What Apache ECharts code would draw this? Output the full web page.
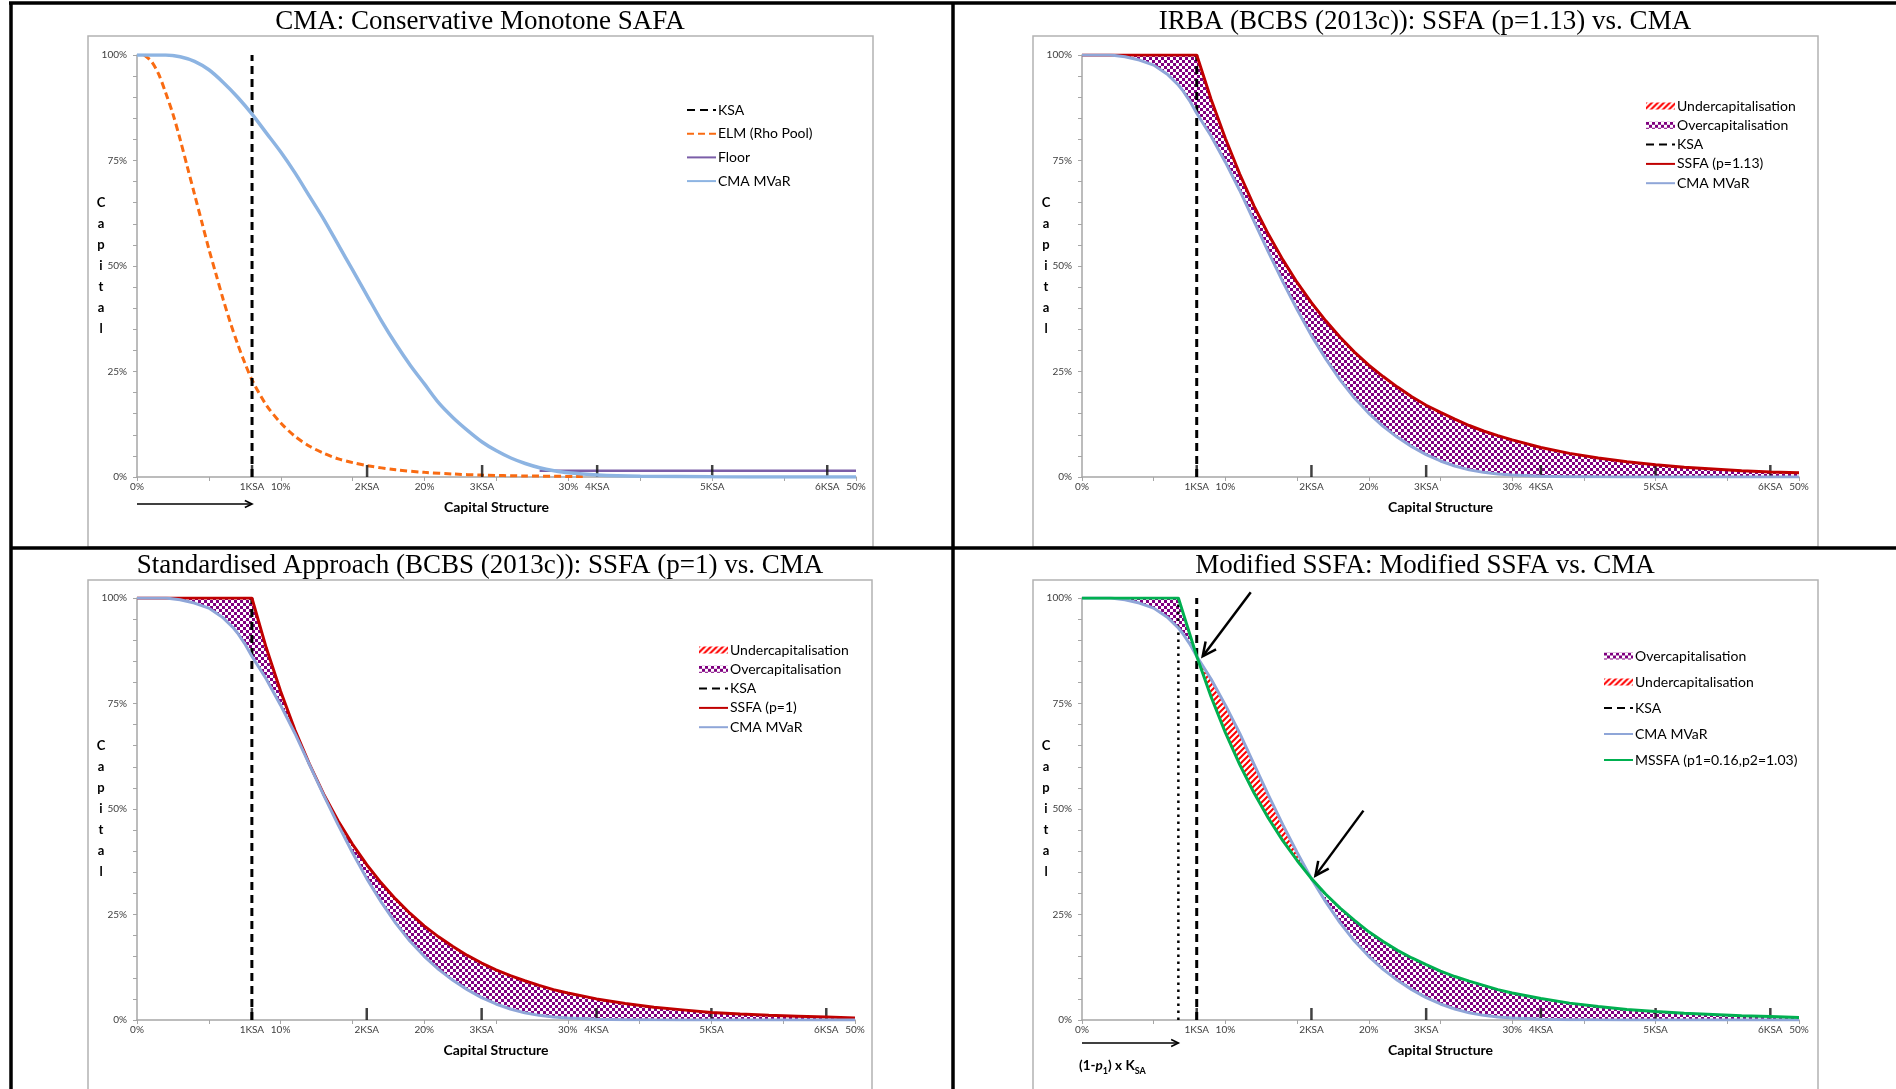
<!DOCTYPE html>
<html>
<head>
<meta charset="utf-8">
<title>SSFA vs CMA</title>
<script src="https://cdn.jsdelivr.net/npm/echarts@6/dist/echarts.min.js"></script>
<style>
  html, body { margin: 0; padding: 0; background: #fff; }
  #chartBox { width: 1896px; height: 1089px; }
</style>
</head>
<body>
<div id="chartBox"></div>
<script>
// capital structure points (% of pool) shared by the SSFA / CMA panels
const capStruct = [0, 1, 2, 3, 4, 5, 6, 6.72, 7, 7.5, 8, 9, 10, 11, 12, 13, 14, 15, 16, 17, 18, 19, 20, 21, 22, 23, 24, 25, 26, 27, 28, 29, 30, 32, 34, 36, 38, 40, 42, 44, 46, 48, 50]
const cmaMVaR = [100, 100, 100, 99.6, 98.8, 97.6, 95.3, 92.9, 91.7, 89.2, 86.2, 80.8, 74.6, 67.9, 60.6, 53.3, 46.3, 39.7, 33.5, 28.0, 23.0, 18.7, 15.1, 12.0, 9.4, 7.2, 5.3, 3.8, 2.6, 1.7, 1.1, 0.7, 0.45, 0.18, 0.07, 0.03, 0.01, 0, 0, 0, 0, 0, 0]
const ssfa113 = [100, 100, 100, 100, 100, 100, 100, 100, 100, 100, 100, 89.5, 80.2, 71.8, 64.2, 57.5, 51.5, 46.1, 41.3, 37.0, 33.1, 29.6, 26.5, 23.8, 21.3, 19.0, 17.0, 15.3, 13.7, 12.2, 10.9, 9.8, 8.8, 7.0, 5.6, 4.5, 3.6, 2.9, 2.3, 1.9, 1.5, 1.2, 1.0]
const ssfa1 = [100, 100, 100, 100, 100, 100, 100, 100, 100, 100, 100, 88.2, 77.9, 68.7, 60.7, 53.5, 47.2, 41.7, 36.8, 32.5, 28.7, 25.3, 22.3, 19.7, 17.4, 15.3, 13.5, 11.9, 10.5, 9.3, 8.2, 7.2, 6.4, 5.0, 3.9, 3.0, 2.4, 1.8, 1.4, 1.1, 0.9, 0.7, 0.5]
const mssfa = [100, 100, 100, 100, 100, 100, 100, 100, 97.0, 91.6, 86.2, 76.6, 68.1, 60.5, 53.8, 47.8, 42.5, 37.8, 33.5, 29.8, 26.5, 23.6, 20.9, 18.6, 16.5, 14.7, 13.1, 11.6, 10.3, 9.2, 8.2, 7.2, 6.4, 5.1, 4.0, 3.2, 2.5, 2.0, 1.6, 1.3, 1.0, 0.8, 0.6]

// first panel (CMA)
const tlX = [0, 1, 2, 3, 4, 5, 6, 7, 8, 9, 10, 11, 12, 13, 14, 15, 16, 17, 18, 19, 20, 21, 22, 23, 24, 25, 26, 27, 28, 29, 30, 32, 35, 40, 45, 50]
const tlCma = [100, 100, 100, 99.6, 98.5, 96.5, 93.5, 90, 86, 81.5, 77, 72, 66.5, 61, 55, 49, 43, 37, 31.5, 26.5, 22, 17.5, 14, 11, 8.3, 6.2, 4.5, 3.2, 2.2, 1.5, 1, 0.5, 0.2, 0.05, 0, 0]
const elmX = [0.5, 1, 1.5, 2, 2.5, 3, 3.5, 4, 4.5, 5, 5.5, 6, 6.5, 7, 7.5, 8, 9, 10, 11, 12, 13, 14, 15, 16, 18, 20, 22, 24, 27, 31]
const elmRho = [100, 98.5, 95.5, 91, 86, 80, 73.5, 67, 60.5, 54, 48, 42, 36.5, 31.5, 27, 23, 17, 12.8, 9.6, 7.3, 5.6, 4.3, 3.4, 2.7, 1.7, 1.1, 0.7, 0.45, 0.25, 0.1]
const floorX = [28, 50]
const floorY = [1.5, 1.5]

const ksa = 8
const p1Start = 6.72 // (1-p1) x KSA
const ksaPos = [8, 16, 24, 32, 40, 48]
const ksaLabels = ['1KSA', '2KSA', '3KSA', '4KSA', '5KSA', '6KSA']
const pctTicks = [0, 10, 20, 30, 50]
const yTicks = [0, 25, 50, 75, 100]

const titles = [
  'CMA: Conservative Monotone SAFA',
  'IRBA (BCBS (2013c)): SSFA (p=1.13) vs. CMA',
  'Standardised Approach (BCBS (2013c)): SSFA (p=1) vs. CMA',
  'Modified SSFA: Modified SSFA vs. CMA'
]

const fontFamily = 'Lato, "Noto Sans", sans-serif'
const tlBlue = '#8db4e2'
const blue = '#8fa6d8'
const red = '#c00000'
const green = '#00b050'
const orange = '#f96b12'
const purple = '#7b5ea8'

function pairs (xs, ys) {
  return xs.map((x, i) => [x, ys[i]])
}

function makeChecker () {
  const c = document.createElement('canvas')
  c.width = 6
  c.height = 6
  const g = c.getContext('2d')
  g.fillStyle = '#fff'
  g.fillRect(0, 0, 6, 6)
  g.fillStyle = '#800080'
  g.fillRect(0, 0, 3, 3)
  g.fillRect(3, 3, 3, 3)
  return { image: c, repeat: 'repeat' }
}

function makeHatch () {
  const c = document.createElement('canvas')
  c.width = 6
  c.height = 6
  const g = c.getContext('2d')
  g.fillStyle = '#fff'
  g.fillRect(0, 0, 6, 6)
  g.strokeStyle = '#ff0000'
  g.lineWidth = 2
  g.beginPath()
  g.moveTo(-1, 7); g.lineTo(7, -1)
  g.moveTo(-4, 4); g.lineTo(4, -4)
  g.moveTo(2, 10); g.lineTo(10, 2)
  g.stroke()
  return { image: c, repeat: 'repeat' }
}

const checker = makeChecker()
const hatch = makeHatch()
const last = capStruct.length - 1
const iKsa = capStruct.indexOf(ksa)
const i2Ksa = capStruct.indexOf(16)

function lineSeries (g, name, data, color, width, type, z, smooth) {
  return {
    type: 'line',
    name: name,
    xAxisIndex: 2 * g,
    yAxisIndex: g,
    data: data,
    symbol: 'none',
    showSymbol: false,
    smooth: smooth || false,
    z: z,
    silent: true,
    lineStyle: { color: color, width: width, type: type || 'solid' },
    itemStyle: { color: color }
  }
}

// filled band between two curves, over index ranges of capStruct
function band (g, name, upper, lower, ranges, fill) {
  return {
    type: 'custom',
    name: name,
    xAxisIndex: 2 * g,
    yAxisIndex: g,
    z: 1,
    silent: true,
    itemStyle: { color: fill },
    data: ranges.length ? [[0, 0]] : [],
    renderItem: function (params, api) {
      return {
        type: 'group',
        children: ranges.map(function (r) {
          const pts = []
          for (let i = r[0]; i <= r[1]; i++) pts.push(api.coord([capStruct[i], upper[i]]))
          for (let i = r[1]; i >= r[0]; i--) pts.push(api.coord([capStruct[i], lower[i]]))
          return { type: 'polygon', shape: { points: pts }, style: { fill: fill, stroke: null } }
        })
      }
    }
  }
}

function ksaTicks (g) {
  return {
    type: 'scatter',
    name: 'ksa ticks',
    xAxisIndex: 2 * g,
    yAxisIndex: g,
    data: ksaPos.map(x => [x, 0]),
    symbol: 'rect',
    symbolSize: [2.5, 12],
    symbolOffset: [0, -6],
    itemStyle: { color: '#111' },
    z: 3,
    silent: true
  }
}

const ksaLine = g => lineSeries(g, 'KSA', [[ksa, 0], [ksa, 100]], '#000', 3, [8, 5], 4)

const grids = [
  { left: 137, top: 55, width: 719, height: 422 },
  { left: 1082, top: 55, width: 717, height: 422 },
  { left: 137, top: 598, width: 718, height: 422 },
  { left: 1082, top: 598, width: 717, height: 422 }
]

const axisGray = '#a6a6a6'
const labelStyle = { fontSize: 10, color: '#404040', fontFamily: fontFamily }

const xAxes = []
const yAxes = []
grids.forEach(function (gr, g) {
  xAxes.push({
    gridIndex: g,
    type: 'value',
    position: 'bottom',
    min: 0,
    max: 50,
    interval: 5,
    axisLine: { show: true, lineStyle: { color: axisGray, width: 1.5 } },
    axisTick: { show: true, length: 4, lineStyle: { color: axisGray } },
    splitLine: { show: false },
    axisLabel: Object.assign({ margin: 5, formatter: v => pctTicks.indexOf(v) >= 0 ? v + '%' : '' }, labelStyle),
    name: 'Capital Structure',
    nameLocation: 'middle',
    nameGap: 23,
    nameTextStyle: { fontWeight: 'bold', fontSize: 14, color: '#000', fontFamily: fontFamily }
  })
  xAxes.push({
    gridIndex: g,
    type: 'value',
    position: 'bottom',
    min: 0,
    max: 50,
    interval: 8,
    axisLine: { show: false },
    axisTick: { show: false },
    splitLine: { show: false },
    axisLabel: Object.assign({
      margin: 5,
      formatter: function (v) {
        const i = ksaPos.findIndex(p => Math.abs(p - v) < 1e-6)
        return i < 0 ? '' : ksaLabels[i]
      }
    }, labelStyle)
  })
  yAxes.push({
    gridIndex: g,
    type: 'value',
    min: 0,
    max: 100,
    interval: 5,
    axisLine: { show: true, lineStyle: { color: axisGray, width: 1.5 } },
    axisTick: { show: true, length: 4, lineStyle: { color: axisGray } },
    splitLine: { show: false },
    axisLabel: Object.assign({ margin: 10, formatter: v => yTicks.indexOf(v) >= 0 ? v + '%' : '' }, labelStyle),
    name: 'C\na\np\ni\nt\na\nl',
    nameLocation: 'middle',
    nameRotate: 0,
    nameGap: 36,
    nameMoveOverlap: false,
    nameTextStyle: { fontWeight: 'bold', fontSize: 13, lineHeight: 21, align: 'center', color: '#000', fontFamily: fontFamily }
  })
})

const series = [
  // CMA panel
  ksaLine(0),
  lineSeries(0, 'ELM (Rho Pool)', pairs(elmX, elmRho), orange, 3, [7, 4], 3, 0.3),
  lineSeries(0, 'Floor', pairs(floorX, floorY), purple, 2.5, 'solid', 3),
  lineSeries(0, 'CMA MVaR', pairs(tlX, tlCma), tlBlue, 3.5, 'solid', 5, 0.3),
  ksaTicks(0),
  // IRBA
  band(1, 'Overcapitalisation', ssfa113, cmaMVaR, [[0, last]], checker),
  band(1, 'Undercapitalisation', ssfa113, cmaMVaR, [], hatch),
  ksaLine(1),
  lineSeries(1, 'SSFA (p=1.13)', pairs(capStruct, ssfa113), red, 3, 'solid', 4),
  lineSeries(1, 'CMA MVaR', pairs(capStruct, cmaMVaR), blue, 3, 'solid', 5),
  ksaTicks(1),
  // Standardised
  band(2, 'Overcapitalisation', ssfa1, cmaMVaR, [[0, last]], checker),
  band(2, 'Undercapitalisation', ssfa1, cmaMVaR, [], hatch),
  ksaLine(2),
  lineSeries(2, 'SSFA (p=1)', pairs(capStruct, ssfa1), red, 3, 'solid', 4),
  lineSeries(2, 'CMA MVaR', pairs(capStruct, cmaMVaR), blue, 3, 'solid', 5),
  ksaTicks(2),
  // Modified SSFA
  band(3, 'Overcapitalisation', mssfa, cmaMVaR, [[0, iKsa], [i2Ksa, last]], checker),
  band(3, 'Undercapitalisation', cmaMVaR, mssfa, [[iKsa, i2Ksa]], hatch),
  lineSeries(3, '(1-p1) x KSA', [[p1Start, 0], [p1Start, 100]], '#000', 2.5, [2.5, 4.5], 3),
  ksaLine(3),
  lineSeries(3, 'CMA MVaR', pairs(capStruct, cmaMVaR), blue, 3, 'solid', 4),
  lineSeries(3, 'MSSFA (p1=0.16,p2=1.03)', pairs(capStruct, mssfa), green, 3, 'solid', 5),
  ksaTicks(3)
]

function legend (left, top, gap, data) {
  return {
    orient: 'vertical',
    left: left,
    top: top,
    itemGap: gap,
    itemWidth: 29,
    itemHeight: 7,
    selectedMode: false,
    textStyle: { fontSize: 14, lineHeight: 16, color: '#000', fontFamily: fontFamily, padding: [0, 0, 0, -3] },
    data: data
  }
}

// line entries: hide the marker the legend adds in the middle of the line
const lineItem = (name, color) => ({ name: name, itemStyle: { opacity: 0 }, lineStyle: color ? { color: color } : {} })
const overItem = { name: 'Overcapitalisation', icon: 'rect', itemStyle: { color: checker } }
const underItem = { name: 'Undercapitalisation', icon: 'rect', itemStyle: { color: hatch } }

const option = {
  animation: false,
  backgroundColor: '#fff',
  grid: grids.map(g => Object.assign({ containLabel: false, outerBoundsMode: 'none' }, g)),
  xAxis: xAxes,
  yAxis: yAxes,
  legend: [
    legend(681, 97, 7.7, [lineItem('KSA'), lineItem('ELM (Rho Pool)'), lineItem('Floor'), lineItem('CMA MVaR', tlBlue)]),
    legend(1640, 93, 3.3, [underItem, overItem, lineItem('KSA'), lineItem('SSFA (p=1.13)'), lineItem('CMA MVaR', blue)]),
    legend(693, 637, 3.3, [underItem, overItem, lineItem('KSA'), lineItem('SSFA (p=1)'), lineItem('CMA MVaR', blue)]),
    legend(1598, 643, 10, [overItem, underItem, lineItem('KSA'), lineItem('CMA MVaR', blue), lineItem('MSSFA (p1=0.16,p2=1.03)')])
  ],
  series: series
}

const chart = echarts.init(document.getElementById('chartBox'))
chart.setOption(option)

// annotations placed from the axes
const px = (g, x, y) => chart.convertToPixel({ xAxisIndex: 2 * g, yAxisIndex: g }, [x, y])

function arrow (x1, y1, x2, y2, w, head) {
  const ang = Math.atan2(y2 - y1, x2 - x1)
  const a = 0.45
  return [
    { type: 'line', z: 20, shape: { x1: x1, y1: y1, x2: x2, y2: y2 }, style: { stroke: '#000', lineWidth: w } },
    {
      type: 'polyline',
      z: 20,
      shape: {
        points: [
          [x2 - head * Math.cos(ang - a), y2 - head * Math.sin(ang - a)],
          [x2, y2],
          [x2 - head * Math.cos(ang + a), y2 - head * Math.sin(ang + a)]
        ]
      },
      style: { stroke: '#000', lineWidth: w, fill: null }
    }
  ]
}

const frame = { stroke: '#000', lineWidth: 3.5 }
const boxStyle = { stroke: '#b3b3b3', lineWidth: 1.5, fill: null }
let graphics = [
  { type: 'rect', z: 0, shape: { x: 88, y: 36, width: 785, height: 511 }, style: boxStyle },
  { type: 'rect', z: 0, shape: { x: 1033, y: 36, width: 785, height: 511 }, style: boxStyle },
  { type: 'rect', z: 0, shape: { x: 88, y: 580, width: 784, height: 540 }, style: boxStyle },
  { type: 'rect', z: 0, shape: { x: 1033, y: 580, width: 785, height: 540 }, style: boxStyle },
  { type: 'line', z: 30, shape: { x1: 9, y1: 3, x2: 1896, y2: 3 }, style: frame },
  { type: 'line', z: 30, shape: { x1: 11, y1: 2, x2: 11, y2: 1089 }, style: frame },
  { type: 'line', z: 30, shape: { x1: 953, y1: 2, x2: 953, y2: 1089 }, style: frame },
  { type: 'line', z: 30, shape: { x1: 11, y1: 548, x2: 1896, y2: 548 }, style: frame }
]
const titlePos = [[480, 22], [1425, 22], [480, 566], [1425, 566]]
titles.forEach(function (t, i) {
  graphics.push({
    type: 'text',
    z: 30,
    x: titlePos[i][0],
    y: titlePos[i][1],
    style: { text: t, fontSize: 27, fontFamily: '"Liberation Serif", "DejaVu Serif", serif', fill: '#000', align: 'center', verticalAlign: 'middle' }
  })
})

// arrow under the CMA panel: 0 -> KSA
const a0 = px(0, 0, 0)
const a1 = px(0, ksa, 0)
graphics = graphics.concat(arrow(a0[0], a0[1] + 27, a1[0], a1[1] + 27, 1.6, 8))

// arrow under the modified SSFA panel: 0 -> (1-p1) x KSA
const b0 = px(3, 0, 0)
const b1 = px(3, p1Start, 0)
graphics = graphics.concat(arrow(b0[0], b0[1] + 23, b1[0], b1[1] + 23, 1.6, 8))
graphics.push({
  type: 'text',
  z: 30,
  x: b0[0] - 3,
  y: b0[1] + 46,
  style: {
    text: '{a|(1-}{i|p}{s|1}{a|) x K}{s|SA}',
    fill: '#000',
    align: 'left',
    verticalAlign: 'middle',
    rich: {
      a: { fontSize: 13.5, fontWeight: 'bold', fontFamily: fontFamily, lineHeight: 19, verticalAlign: 'middle' },
      i: { fontSize: 13.5, fontWeight: 'bold', fontStyle: 'italic', fontFamily: fontFamily, lineHeight: 19, verticalAlign: 'middle' },
      s: { fontSize: 9, fontWeight: 'bold', fontFamily: fontFamily, lineHeight: 19, verticalAlign: 'bottom' }
    }
  }
})

// arrows pointing at the crossings of MSSFA and CMA
const c1 = px(3, ksa, mssfa[iKsa])
const c2 = px(3, 16, mssfa[i2Ksa])
graphics = graphics.concat(arrow(c1[0] + 54, c1[1] - 64, c1[0] + 6, c1[1], 2.5, 15))
graphics = graphics.concat(arrow(c2[0] + 52, c2[1] - 68, c2[0] + 4, c2[1] - 3, 2.5, 15))

chart.setOption({ graphic: graphics })
</script>
</body>
</html>
